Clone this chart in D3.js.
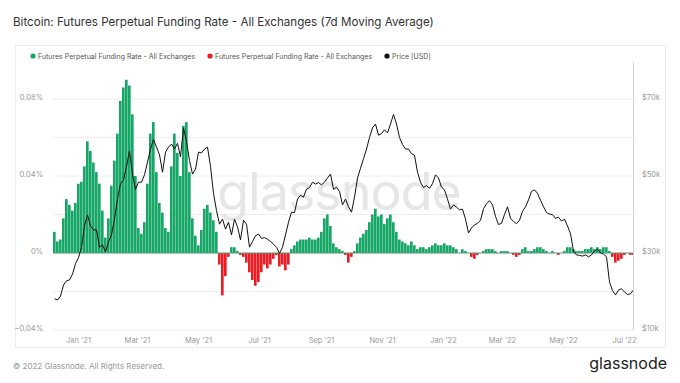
<!DOCTYPE html>
<html>
<head>
<meta charset="utf-8">
<script src="https://cdn.jsdelivr.net/npm/d3@7"></script>
<style>
  html, body { margin: 0; padding: 0; background: #fff; }
  #container { width: 680px; height: 383px; }
  text { font-family: Inter, Roboto, "Open Sans", sans-serif; }
</style>
</head>
<body>
<div id="container"></div>
<script>
    // Daily series sampled every 3 days, starting 7 Dec 2020
    const startDate = new Date(2020, 11, 7);
    const stepDays = 3;

    // Funding rate, percent (7d moving average)
    const fundingRate = [
        0.011,0.006,0.007,0.018,0.028,0.025,0.022,0.026,0.036,0.037,
        0.045,0.058,0.053,0.047,0.042,0.036,0.022,0.008,0.018,0.035,
        0.048,0.062,0.079,0.086,0.090,0.087,0.072,0.040,0.013,0.010,
        0.016,0.036,0.062,0.068,0.042,0.026,0.021,0.013,0.011,0.045,
        0.062,0.052,0.040,0.066,0.068,0.042,0.018,0.009,0.004,0.012,
        0.023,0.025,0.021,0.017,0.011,-0.006,-0.022,-0.012,-0.002,0.003,
        0.003,0.001,-0.001,-0.002,-0.005,-0.010,-0.014,-0.017,-0.015,-0.010,
        -0.006,-0.008,-0.006,-0.003,-0.001,-0.007,-0.006,-0.009,-0.006,0.002,
        0.004,0.006,0.007,0.007,0.007,0.008,0.007,0.007,0.008,0.011,
        0.018,0.020,0.014,0.005,0.003,0.002,0.001,-0.001,-0.005,-0.002,
        0.001,0.005,0.008,0.010,0.012,0.016,0.020,0.023,0.019,0.020,
        0.015,0.018,0.020,0.016,0.011,0.007,0.006,0.005,0.004,0.006,
        0.004,0.002,0.003,0.003,0.002,0.003,0.004,0.005,0.004,0.004,
        0.005,0.004,0.004,0.003,0.002,0.000,0.002,0.001,0.000,-0.002,
        -0.003,-0.001,0.000,0.001,0.002,0.002,0.002,0.001,0.000,0.001,
        0.001,0.001,0.000,-0.001,-0.002,-0.001,0.002,0.003,0.001,0.001,
        0.002,0.003,0.003,0.002,0.001,0.000,0.001,0.000,-0.001,0.000,
        0.001,0.003,0.003,0.002,0.001,0.001,0.001,0.002,0.002,0.003,
        0.002,0.003,0.002,0.003,0.003,0.001,-0.002,-0.005,-0.004,-0.003,
        -0.001,0.000,-0.001,-0.001
    ];

    // BTC price, USD
    const price = [
        18100,17800,18800,21700,22800,23000,24500,27200,28800,31500,
        37000,39900,37000,36000,36000,31500,32100,30300,32900,34700,
        38800,44000,48000,49000,52500,56500,50500,46500,48400,48400,
        50300,53600,57000,59500,57500,55500,51000,56200,57500,58300,
        57000,58500,55000,62500,59000,54000,50500,51800,56200,56000,
        57000,57500,52500,45500,41000,37500,38800,36200,38000,34700,
        38800,36800,33400,38500,37500,31500,33000,34500,34900,33800,
        34000,33600,33000,32300,31500,29900,31500,34700,38000,40600,
        40500,44000,45000,44500,46600,47000,48400,47900,48300,47700,
        48400,49500,50500,46500,47100,46000,42500,44000,42000,40600,
        44500,49500,52000,54500,57000,60000,62500,63500,60600,61000,
        62000,61200,63500,66000,63500,60000,58200,57000,57000,55800,
        55400,51000,48400,47000,47500,46800,48000,50300,49500,47100,
        46400,44000,41400,42500,41900,41200,41400,38800,35200,36500,
        37300,37700,38500,41500,42800,43600,42500,39500,37400,37700,
        40000,42000,39000,38200,37600,38500,40800,42000,43800,46000,
        46400,45500,43700,42000,40500,40100,40000,39000,39300,38300,
        38800,37000,35000,30500,29500,29400,29200,29500,29000,29500,
        30500,31000,30000,29700,29000,22500,20200,19100,20400,20700,
        19900,19200,19400,20400
    ];

    // Tick values
    const fundingTicks = [-0.04, 0, 0.04, 0.08];
    const fundingGrid = [-0.04, -0.02, 0, 0.02, 0.04, 0.06, 0.08];
    const priceTicks = [10000, 30000, 50000, 70000];

    const legendItems = [
        { label: "Futures Perpetual Funding Rate - All Exchanges", color: "#16a766" },
        { label: "Futures Perpetual Funding Rate - All Exchanges", color: "#ec1c24" },
        { label: "Price [USD]", color: "#111" }
    ];

    const width = 680, height = 383;
    const plot = { left: 53, right: 633, top: 62, bottom: 330 };

    const svg = d3.select("#container")
                    .append("svg")
                    .attr("width", width)
                    .attr("height", height);

    // build rows
    const data = fundingRate.map(function(f, i) {
        return { date: d3.timeDay.offset(startDate, i * stepDays), funding: f, price: price[i] };
    });
    const endDate = d3.timeDay.offset(startDate, fundingRate.length * stepDays - 2);

    // Scales
    const x = d3.scaleTime().domain([startDate, endDate]).range([plot.left, plot.right]);
    const yF = d3.scaleLinear().domain([-0.04, 0.08]).range([plot.bottom, 99]);
    const yP = d3.scaleLinear().domain([10000, 70000]).range([plot.bottom, 99]);

    // Title
    svg.append("text")
        .attr("x", 13)
        .attr("y", 26)
        .attr("font-size", "11.6px")
        .attr("fill", "#333")
        .text("Bitcoin: Futures Perpetual Funding Rate - All Exchanges (7d Moving Average)");

    // Panel
    svg.append("rect")
        .attr("x", 15.5).attr("y", 45.5)
        .attr("width", 650).attr("height", 302)
        .attr("fill", "#fff")
        .attr("stroke", "#ececec");

    // Legend
    const legendX = [33, 210, 387];
    const legend = svg.append("g");
    legendItems.forEach(function(d, i) {
        legend.append("circle")
            .attr("cx", legendX[i]).attr("cy", 56)
            .attr("r", 2.6)
            .attr("fill", d.color);
        legend.append("text")
            .attr("x", legendX[i] + 5).attr("y", 58.5)
            .attr("font-size", "7px")
            .attr("fill", "#555")
            .text(d.label);
    });

    // Gridlines
    svg.append("g")
        .selectAll("line")
        .data(fundingGrid)
        .enter()
        .append("line")
        .attr("x1", plot.left).attr("x2", plot.right)
        .attr("y1", d => yF(d)).attr("y2", d => yF(d))
        .attr("stroke", "#ededed");

    // Watermark
    svg.append("text")
        .attr("x", 339).attr("y", 210)
        .attr("text-anchor", "middle")
        .attr("font-size", "52px")
        .attr("fill", "#e6e6e6")
        .attr("letter-spacing", "-1px")
        .text("glassnode");

    svg.append("clipPath").attr("id", "clip")
        .append("rect")
        .attr("x", plot.left).attr("y", plot.top)
        .attr("width", plot.right - plot.left).attr("height", plot.bottom - plot.top);

    const g = svg.append("g").attr("clip-path", "url(#clip)");

    // Funding bars
    g.selectAll(".bar")
        .data(data)
        .enter()
        .append("rect")
        .attr("class", "bar")
        .attr("x", d => x(d.date))
        .attr("width", d => x(d3.timeDay.offset(d.date, stepDays)) - x(d.date) - 0.35)
        .attr("y", d => Math.min(yF(d.funding), yF(0)))
        .attr("height", d => Math.abs(yF(d.funding) - yF(0)))
        .attr("fill", d => d.funding >= 0 ? "#16a766" : "#ec1c24");

    // zero line
    g.append("line")
        .attr("x1", plot.left).attr("x2", plot.right)
        .attr("y1", yF(0)).attr("y2", yF(0))
        .attr("stroke", "#5f9c7c")
        .attr("stroke-width", 1);

    // Price line
    g.append("path")
        .datum(data)
        .attr("fill", "none")
        .attr("stroke", "#111")
        .attr("stroke-width", 1)
        .attr("d", d3.line()
                    .x(d => x(d.date) + 1.5)
                    .y(d => yP(d.price)));

    // Right border of plot
    svg.append("line")
        .attr("x1", plot.right + 0.5).attr("x2", plot.right + 0.5)
        .attr("y1", plot.top).attr("y2", plot.bottom)
        .attr("stroke", "#d4d4d4");

    // Left axis
    const leftAxis = svg.append("g")
        .attr("transform", "translate(" + plot.left + ",0)")
        .call(d3.axisLeft(yF)
                .tickValues(fundingTicks)
                .tickSize(0)
                .tickPadding(10)
                .tickFormat(d => (d === 0 ? "0" : d3.format(".2f")(d)) + "%"));

    // Right axis
    const rightAxis = svg.append("g")
        .attr("transform", "translate(" + plot.right + ",0)")
        .call(d3.axisRight(yP)
                .tickValues(priceTicks)
                .tickSize(0)
                .tickPadding(9)
                .tickFormat(d => "$" + d / 1000 + "k"));

    // Bottom axis
    const bottomAxis = svg.append("g")
        .attr("transform", "translate(0," + plot.bottom + ")")
        .call(d3.axisBottom(x)
                .ticks(d3.timeMonth.every(2))
                .tickSize(0)
                .tickPadding(8)
                .tickFormat(d3.timeFormat("%b '%y")));

    [leftAxis, rightAxis, bottomAxis].forEach(function(a) {
        a.select(".domain").remove();
        a.selectAll("text")
            .attr("font-family", "Inter, Roboto, sans-serif")
            .attr("font-size", "7.5px")
            .attr("fill", "#999");
    });
    leftAxis.selectAll("text").attr("dy", "0.1em");
    rightAxis.selectAll("text").attr("dy", "0.1em");

    // Footer
    svg.append("text")
        .attr("x", 13).attr("y", 369)
        .attr("font-size", "8px")
        .attr("fill", "#999")
        .text("© 2022 Glassnode. All Rights Reserved.");

    svg.append("text")
        .attr("x", 667).attr("y", 369)
        .attr("text-anchor", "end")
        .attr("font-size", "16px")
        .attr("fill", "#222")
        .text("glassnode");
</script>
</body>
</html>
